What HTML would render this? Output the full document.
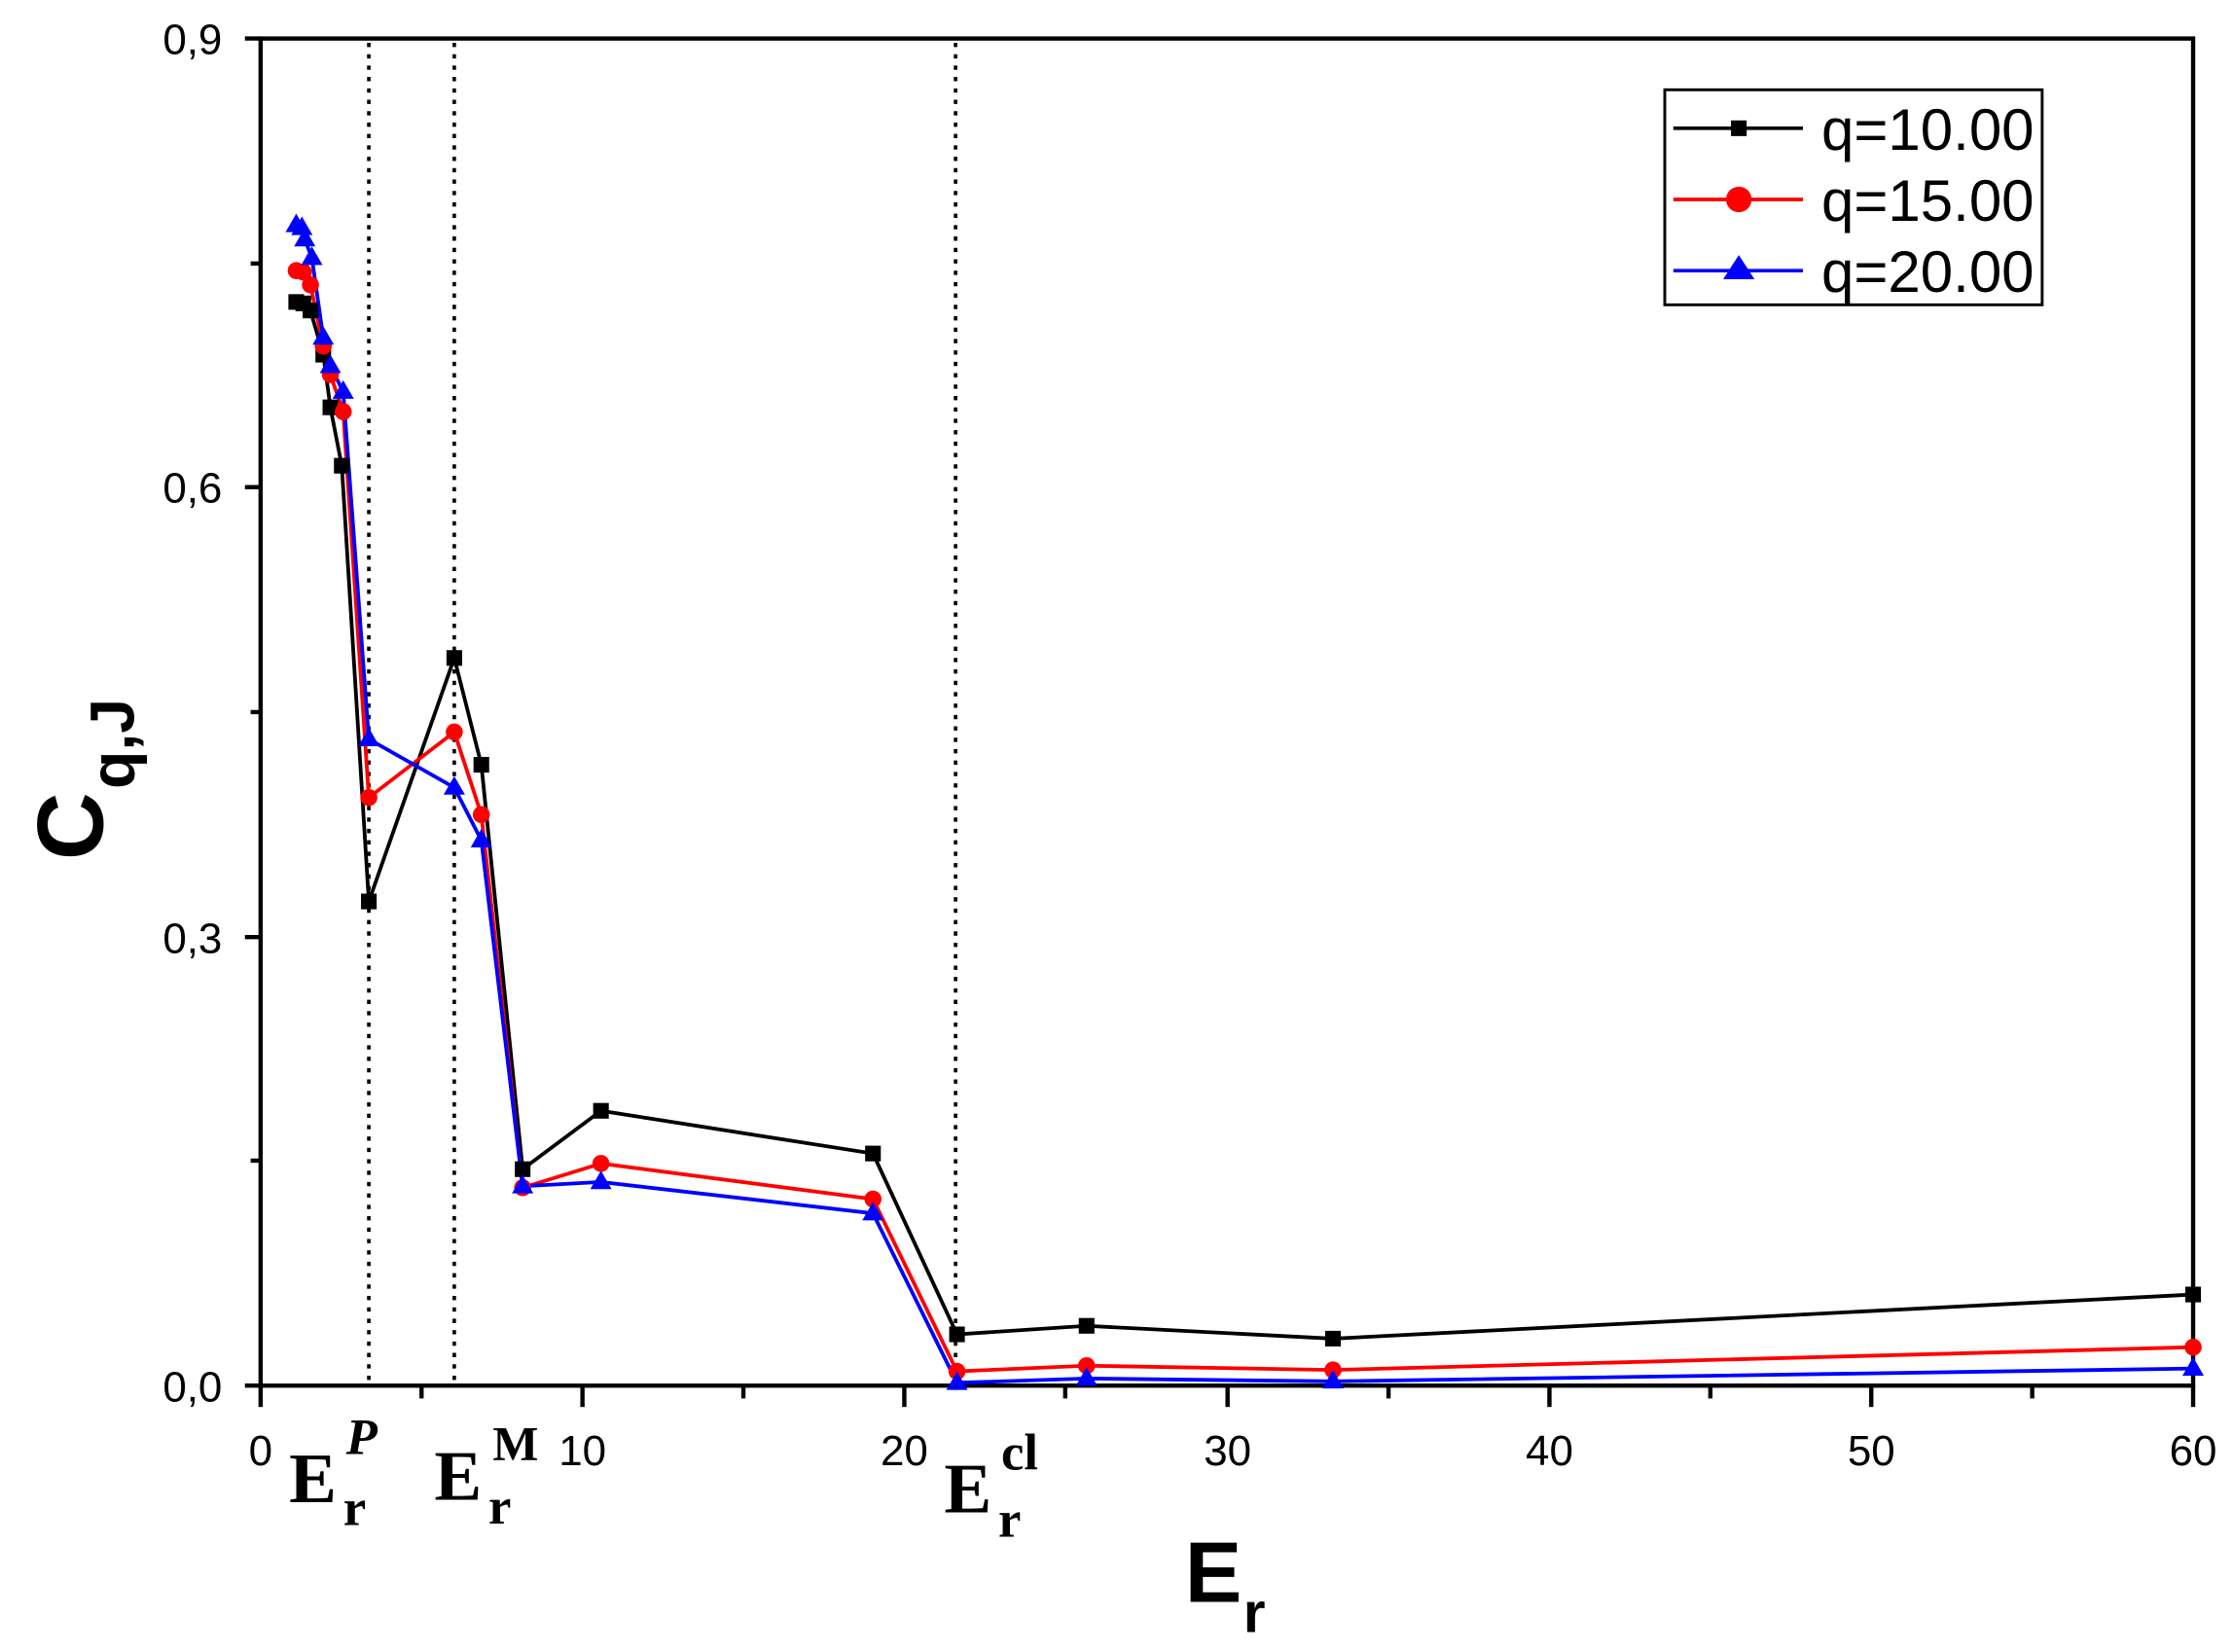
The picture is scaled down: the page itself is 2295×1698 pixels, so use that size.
<!DOCTYPE html>
<html><head><meta charset="utf-8"><style>
html,body{margin:0;padding:0;background:#fff;}
svg{display:block;}
</style></head><body>
<svg width="2295" height="1698" viewBox="0 0 1568 1160" xmlns="http://www.w3.org/2000/svg">
<defs>
<rect id="sq" x="-5.5" y="-5.5" width="11" height="11" fill="#000"/>
<circle id="ci" r="6" fill="#f00"/>
<polygon id="tr" points="0,-8 7.5,5 -7.5,5" fill="#00f"/>
</defs>
<rect width="1568" height="1160" fill="#fff"/>
<g stroke="#000" stroke-width="2.5" stroke-dasharray="3,5">
<line x1="259" y1="30" x2="259" y2="973"/>
<line x1="319" y1="30" x2="319" y2="973"/>
<line x1="671" y1="30" x2="671" y2="973"/>
</g>
<rect x="183" y="27" width="1357" height="946" fill="none" stroke="#000" stroke-width="3"/>
<g stroke="#000" stroke-width="3">
<line x1="172" y1="27" x2="183" y2="27"/>
<line x1="172" y1="342" x2="183" y2="342"/>
<line x1="172" y1="658" x2="183" y2="658"/>
<line x1="172" y1="973" x2="183" y2="973"/>
<line x1="176" y1="185" x2="183" y2="185"/>
<line x1="176" y1="500" x2="183" y2="500"/>
<line x1="176" y1="815" x2="183" y2="815"/>
</g>
<g stroke="#000" stroke-width="3">
<line x1="183" y1="973" x2="183" y2="988"/>
<line x1="409" y1="973" x2="409" y2="988"/>
<line x1="635" y1="973" x2="635" y2="988"/>
<line x1="862" y1="973" x2="862" y2="988"/>
<line x1="1088" y1="973" x2="1088" y2="988"/>
<line x1="1314" y1="973" x2="1314" y2="988"/>
<line x1="1540" y1="973" x2="1540" y2="988"/>
<line x1="296" y1="973" x2="296" y2="982"/>
<line x1="522" y1="973" x2="522" y2="982"/>
<line x1="748" y1="973" x2="748" y2="982"/>
<line x1="975" y1="973" x2="975" y2="982"/>
<line x1="1201" y1="973" x2="1201" y2="982"/>
<line x1="1427" y1="973" x2="1427" y2="982"/>
</g>
<g font-family="Liberation Sans, sans-serif" font-size="30" fill="#000">
<text x="156" y="38" text-anchor="end">0,9</text>
<text x="156" y="353" text-anchor="end">0,6</text>
<text x="156" y="669" text-anchor="end">0,3</text>
<text x="156" y="984" text-anchor="end">0,0</text>
<text x="183" y="1029" text-anchor="middle">0</text>
<text x="409" y="1029" text-anchor="middle">10</text>
<text x="635" y="1029" text-anchor="middle">20</text>
<text x="862" y="1029" text-anchor="middle">30</text>
<text x="1088" y="1029" text-anchor="middle">40</text>
<text x="1314" y="1029" text-anchor="middle">50</text>
<text x="1540" y="1029" text-anchor="middle">60</text>
</g>
<g font-family="Liberation Serif, serif" font-weight="bold" fill="#000">
<text x="203" y="1055" font-size="50">E</text><text x="241" y="1071" font-size="36">r</text><text x="243" y="1021" font-size="36" font-style="italic">P</text>
<text x="305" y="1053" font-size="50">E</text><text x="343" y="1070" font-size="36">r</text><text x="346" y="1025" font-size="34">M</text>
<text x="663" y="1062" font-size="50">E</text><text x="701" y="1079" font-size="36">r</text><text x="703" y="1032" font-size="36">cl</text>
</g>
<g font-family="Liberation Sans, sans-serif" font-weight="bold" fill="#000">
<text x="832" y="1125" font-size="60">E</text><text x="873" y="1146" font-size="40">r</text>
<g transform="translate(72,604) rotate(-90)"><text x="0" y="0" font-size="66">C</text><text x="50" y="22" font-size="44">q,J</text></g>
</g>
<polyline fill="none" stroke="#000" stroke-width="2.6" points="208,212 213,213 218,218 227,249 232,286 240,327 259,633 319,462 338,537 367,821 422,780 613,810 672,937 763,931 936,940 1540,909"/>
<polyline fill="none" stroke="#f00" stroke-width="2.6" points="208,190 213,191 218,200 227,243 232,263 241,289 259,560 319,514 338,572 367,834 422,817 613,842 672,963 763,959 936,962 1540,946"/>
<polyline fill="none" stroke="#00f" stroke-width="2.6" points="208,158 212,160 214,168 219,181 227,237 232,257 241,275 259,519 319,553 338,590 367,833 422,830 613,852 672,971 763,968 936,970 1540,961"/>
<g>
<use href="#sq" x="208" y="212"/><use href="#sq" x="213" y="213"/><use href="#sq" x="218" y="218"/><use href="#sq" x="227" y="249"/><use href="#sq" x="232" y="286"/><use href="#sq" x="240" y="327"/><use href="#sq" x="259" y="633"/><use href="#sq" x="319" y="462"/><use href="#sq" x="338" y="537"/><use href="#sq" x="367" y="821"/><use href="#sq" x="422" y="780"/><use href="#sq" x="613" y="810"/><use href="#sq" x="672" y="937"/><use href="#sq" x="763" y="931"/><use href="#sq" x="936" y="940"/><use href="#sq" x="1540" y="909"/>
</g>
<g>
<use href="#ci" x="208" y="190"/><use href="#ci" x="213" y="191"/><use href="#ci" x="218" y="200"/><use href="#ci" x="227" y="243"/><use href="#ci" x="232" y="263"/><use href="#ci" x="241" y="289"/><use href="#ci" x="259" y="560"/><use href="#ci" x="319" y="514"/><use href="#ci" x="338" y="572"/><use href="#ci" x="367" y="834"/><use href="#ci" x="422" y="817"/><use href="#ci" x="613" y="842"/><use href="#ci" x="672" y="963"/><use href="#ci" x="763" y="959"/><use href="#ci" x="936" y="962"/><use href="#ci" x="1540" y="946"/>
</g>
<g>
<use href="#tr" x="208" y="158"/><use href="#tr" x="212" y="160"/><use href="#tr" x="214" y="168"/><use href="#tr" x="219" y="181"/><use href="#tr" x="227" y="237"/><use href="#tr" x="232" y="257"/><use href="#tr" x="241" y="275"/><use href="#tr" x="259" y="519"/><use href="#tr" x="319" y="553"/><use href="#tr" x="338" y="590"/><use href="#tr" x="367" y="833"/><use href="#tr" x="422" y="830"/><use href="#tr" x="613" y="852"/><use href="#tr" x="672" y="971"/><use href="#tr" x="763" y="968"/><use href="#tr" x="936" y="970"/><use href="#tr" x="1540" y="961"/>
</g>
<rect x="1169" y="63" width="265" height="151" fill="#fff" stroke="#000" stroke-width="2"/>
<line x1="1175" y1="90" x2="1266" y2="90" stroke="#000" stroke-width="2.5"/><use href="#sq" x="1221" y="90"/>
<line x1="1175" y1="140" x2="1266" y2="140" stroke="#f00" stroke-width="2.5"/><circle cx="1221" cy="140" r="9" fill="#f00"/>
<line x1="1175" y1="190" x2="1266" y2="190" stroke="#00f" stroke-width="2.5"/><polygon points="1221,179 1232,196 1210,196" fill="#00f"/>
<g font-family="Liberation Sans, sans-serif" font-size="41" fill="#000">
<text x="1279" y="105">q=10.00</text>
<text x="1279" y="155">q=15.00</text>
<text x="1279" y="205">q=20.00</text>
</g>
</svg>
</body></html>
